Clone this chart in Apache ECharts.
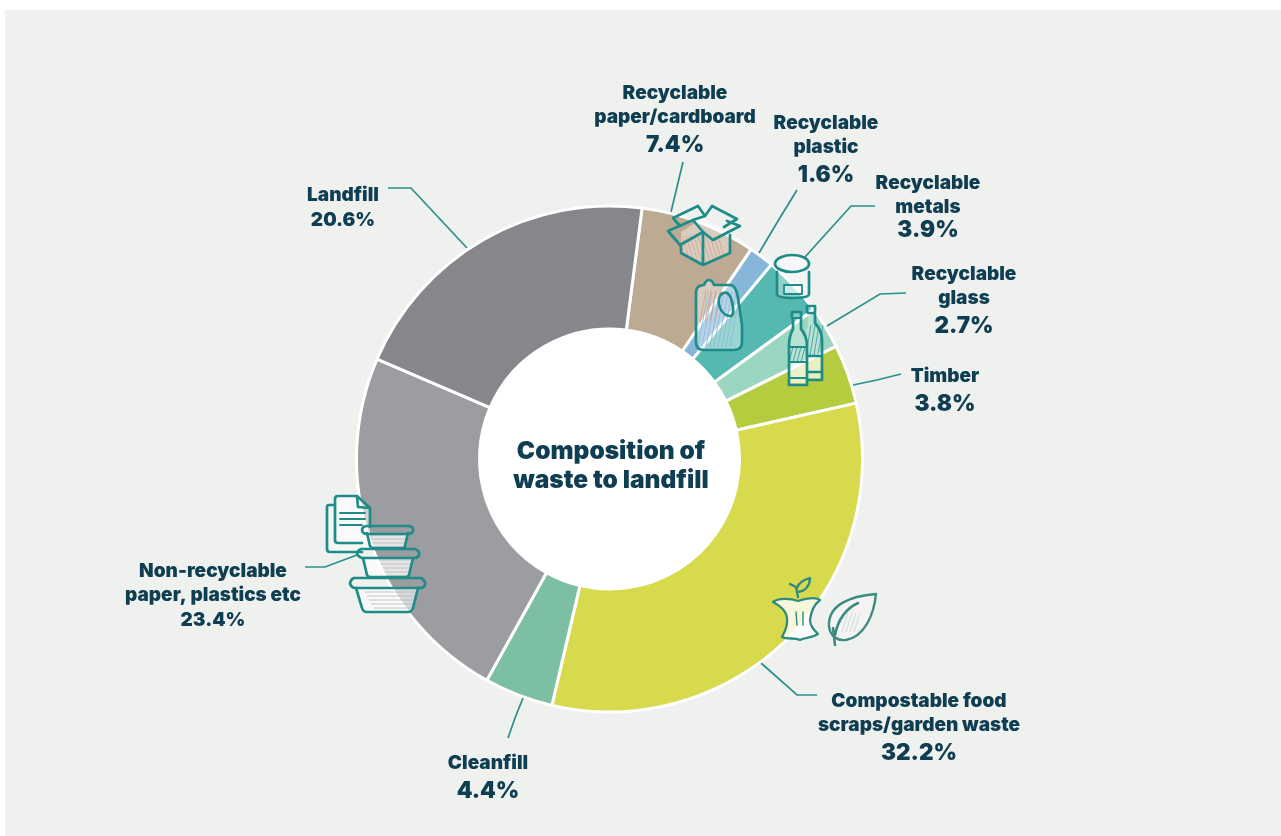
<!DOCTYPE html>
<html>
<head>
<meta charset="utf-8">
<style>
  html, body { margin: 0; padding: 0; background: #fff; }
  #chart { width: 1281px; height: 836px; }
</style>
<script src="https://cdn.jsdelivr.net/npm/echarts@6/dist/echarts.min.js"></script>
</head>
<body>
<div id="chart"></div>
<script>
// Waste streams, clockwise from the top of the ring
const categories = [
  'Recyclable\npaper/cardboard', 'Recyclable\nplastic', 'Recyclable\nmetals',
  'Recyclable\nglass', 'Timber', 'Compostable food\nscraps/garden waste',
  'Cleanfill', 'Non-recyclable\npaper, plastics etc', 'Landfill'
];
const shares = [7.4, 1.6, 3.9, 2.7, 3.8, 32.2, 4.4, 23.4, 20.6];
const sliceColors = ['#bcaa93', '#86b7d8', '#55b9b2', '#9ad6c0', '#b6cc3f', '#d8da4e', '#7dbfa3', '#9c9da0', '#86878a'];

// Label centres and leader routes, in page pixels
const labelCentres = [
  [675, 121.5], [826, 151], [928, 206], [964, 302], [945, 392],
  [919, 729], [488, 779], [213, 596], [343, 208]
];
const percentStyles = ['pct', 'pct', 'pctTight', 'pct', 'pct', 'pct', 'pct', 'pctSmall', 'pctSmall'];
const leaders = [
  [[683, 162], [677, 187], [671, 212]],
  [[797, 190], [778, 221], [759, 253]],
  [[875, 206], [851, 206], [805, 257]],
  [[906, 293], [880, 294], [827, 326]],
  [[901, 374], [877, 380], [853, 385]],
  [[817, 695], [797, 695], [761, 663]],
  [[508, 738], [515, 718], [523, 698]],
  [[305, 567], [325, 567], [357, 555]],
  [[388, 188], [411, 188], [467, 248]]
];

const ink = '#0f3d52';
const teal = '#1f8c88';
const fontFamily = 'Inter, "Open Sans", sans-serif';

// Evenly spaced slanted strokes used as shading inside the icons
function hatch(x0, x1, y0, y1, step, slant) {
  let d = '';
  for (let x = x0; x <= x1; x += step) {
    d += 'M' + x + ' ' + y1 + 'L' + (x + slant) + ' ' + y0;
  }
  return d;
}

function outline(pathData, width, color) {
  return {
    type: 'path',
    shape: { pathData },
    style: { fill: 'none', stroke: color || teal, lineWidth: width || 2.7, lineJoin: 'round', lineCap: 'round' }
  };
}
function filled(pathData, fill) {
  return { type: 'path', shape: { pathData }, style: { fill, stroke: 'none' } };
}
function shade(pathData, color, width) {
  return {
    type: 'path', shape: { pathData },
    style: { fill: 'none', stroke: color, lineWidth: width || 1, opacity: 0.85 }
  };
}

const applePath = 'M773 602C778 598 790 598 798 601C808 598 816 597 820 600C815 604 811 610 810 620C810 626 814 630 818 634C812 638 806 637 800 640C794 637 788 640 782 637C786 630 788 625 787 618C786 610 780 606 773 602Z';
const leafPath = 'M876 594C850 596 828 605 829 626C830 637 838 641 846 640C864 637 874 615 876 594Z';
const jugPath = 'M704 285Q706 280 709 280Q712 280 714 285L730 285Q736 285 738 298L742 325L742 342Q742 350 734 350L704 350Q696 350 696 342L696 293Q696 285 704 285Z';

const icons = [
  // Cardboard box
  filled('M681 232L681 253L703 265L730 253L730 232L703 218Z', 'rgba(255,255,255,0.4)'),
  shade(hatch(682, 728, 236, 262, 4, -8), '#d9a590'),
  outline('M681 244L681 253L703 265L730 253L730 235M703 232L703 265'),
  outline('M668 231L693 220L703 232L680 245Z'),
  outline('M703 232L713 240L740 226L727 221'),
  outline('M680 226L673 218L698 206L705 216L712 206L737 219L724 227M693 220L705 216'),

  // Plastic bottle
  filled(jugPath, 'rgba(255,255,255,0.4)'),
  shade(hatch(698, 730, 292, 347, 4, 10), '#8fb9d6'),
  shade(hatch(700, 716, 290, 322, 5, 6), '#d39f8a'),
  outline(jugPath),
  outline('M719 298Q722 291 727 293Q732 296 733 308Q734 316 730 316Q724 316 720 308Q718 303 719 298Z'),

  // Tin with lifted lid
  filled('M777 272L809 272L809 294Q809 298 793 298Q777 298 777 294Z', 'rgba(255,255,255,0.35)'),
  outline('M777 272L777 294Q777 298 793 298Q809 298 809 294L809 272'),
  filled('M775 264C775 258 785 255 792 255C800 255 809 258 809 264C809 269 800 272 792 272C785 272 775 269 775 264Z', 'rgba(255,255,255,0.45)'),
  outline('M775 264C775 258 785 255 792 255C800 255 809 258 809 264C809 269 800 272 792 272C785 272 775 269 775 264Z'),
  filled('M784 285L802 285L802 294L784 294Z', 'rgba(255,255,255,0.55)'),
  outline('M784 285L802 285L802 294L784 294Z', 1.8),

  // Pair of glass bottles
  filled('M807 310L807 306L815 306L815 323Q822 331 822 340L822 380L806 380L806 330Q808 327 808 323Z', 'rgba(255,255,255,0.3)'),
  shade(hatch(806, 820, 325, 355, 4, 5), '#3d9b97'),
  filled('M808 356L821 356L821 378L808 378Z', 'rgba(255,255,255,0.55)'),
  outline('M807 312L807 306L815 306L815 323Q822 331 822 340L822 380L806 380M808 313L815 313M807 356L822 356M807 372L822 372'),
  filled('M792 312L801 312L801 329Q807 336 807 346L807 385L789 385L789 346Q789 336 793 329Z', 'rgba(255,255,255,0.3)'),
  shade(hatch(789, 804, 347, 362, 4, 4), '#3d9b97'),
  filled('M790 362L806 362L806 383L790 383Z', 'rgba(255,255,255,0.6)'),
  outline('M792 318L792 312L801 312L801 329Q807 336 807 346L807 385L789 385L789 346Q789 336 793 329L793 318Z'),
  outline('M793 318L801 318M789 347L807 347M789 362L807 362M789 378L807 378', 2),

  // Stacked papers
  filled('M327 507L335 505L335 543L370 543L370 552L330 552Q327 552 327 549Z', 'rgba(255,255,255,0.35)'),
  outline('M335 505L329 505Q327 505 327 507L327 549Q327 552 330 552L362 552'),
  filled('M338 496L357 496L370 508L370 543L338 543Q335 543 335 540L335 499Q335 496 338 496Z', 'rgba(255,255,255,0.55)'),
  outline('M362 543L338 543Q335 543 335 540L335 499Q335 496 338 496L357 496L370 508L370 527M357 496L358 507L370 508'),
  outline('M340 513L365 513M340 519L365 519M340 525L362 525', 1.9),

  // Stacked food containers
  filled('M365 533L409 533L406 547L370 547Z', 'rgba(255,255,255,0.55)'),
  shade('M372 537L405 537M372 541L404 541M373 545L403 545', '#ffffff', 1.2),
  outline('M367 533L370 546Q371 548 374 548L402 548Q405 548 405 546L408 533'),
  outline('M366 526L409 526Q414 527 413 531Q412 534 408 534L366 534Q362 533 362 530Q362 527 366 526Z'),
  filled('M363 558L414 558L409 577L367 577Z', 'rgba(255,255,255,0.55)'),
  shade('M372 562L412 562M374 566L411 566M376 570L410 570M378 574L409 574', '#ffffff', 1.2),
  outline('M363 558L367 575Q368 577 371 577L405 577Q408 577 409 575L413 558'),
  outline('M361 549L415 549Q420 551 419 555Q418 558 414 558L362 558Q357 556 357 553Q358 550 361 549Z'),
  filled('M355 588L419 588L413 612L361 612Z', 'rgba(255,255,255,0.6)'),
  shade('M365 592L417 592M367 596L416 596M369 600L415 600M371 604L414 604M374 608L412 608', '#b9babc', 1.2),
  outline('M356 588L362 608Q363 612 367 612L408 612Q412 612 413 608L418 588'),
  outline('M354 578L421 578Q426 581 425 585Q424 588 420 588L354 588Q350 586 350 583Q351 579 354 578Z'),

  // Apple core
  filled(applePath, 'rgba(255,255,255,0.8)'),
  outline(applePath, 2.3, '#2f8a80'),
  outline('M798 597L796 587M796 587L790 584M797 588C799 582 804 580 810 578C810 585 806 591 798 592', 2.3, '#2f8a80'),
  outline('M796 612L797 625M803 612L803 625', 1.4, '#2f8a80'),

  // Leaf
  filled(leafPath, 'rgba(255,255,255,0.25)'),
  shade(hatch(842, 856, 613, 632, 4, 6), '#c9d6d2'),
  outline(leafPath, 2.4, '#3c8a80'),
  outline('M833 628L835 645M835 635C838 620 845 609 858 603', 2.6, '#3c8a80')
];

const pieData = categories.map(function (name, i) {
  return { name: name, value: shares[i], itemStyle: { color: sliceColors[i] } };
});

const chart = echarts.init(document.getElementById('chart'), null, { renderer: 'canvas' });
chart.setOption({
  animation: false,
  backgroundColor: '#ffffff',
  title: {
    text: 'Composition of\nwaste to landfill',
    left: 606, top: 432,
    textAlign: 'center',
    textStyle: { color: ink, fontFamily, fontWeight: 900, fontSize: 24.5, lineHeight: 29 }
  },
  graphic: {
    elements: [
      // Panel behind the chart and the white hole of the ring
      { type: 'rect', z: -10, silent: true, shape: { x: 5, y: 10, width: 1276, height: 826 }, style: { fill: '#eff1ef' } },
      { type: 'circle', z: -9, silent: true, shape: { cx: 609.5, cy: 459, r: 131 }, style: { fill: '#ffffff' } }
    ]
  },
  series: [{
    type: 'pie',
    center: [609.5, 459],
    radius: [130, 253],
    startAngle: 82.6,
    clockwise: true,
    silent: true,
    avoidLabelOverlap: false,
    itemStyle: { borderColor: '#ffffff', borderWidth: 3 },
    data: pieData,
    label: {
      show: true,
      position: 'outside',
      color: ink,
      formatter: function (p) {
        const lines = p.name.split('\n').map(function (l) { return '{name|' + l + '}'; });
        lines.push('{' + percentStyles[p.dataIndex] + '|' + p.value.toFixed(1) + '%}');
        return lines.join('\n');
      },
      rich: {
        name: { color: ink, fontFamily, fontWeight: 900, fontSize: 19, lineHeight: 24, align: 'center' },
        pct: { color: ink, fontFamily, fontWeight: 900, fontSize: 22.5, lineHeight: 32, align: 'center' },
        pctTight: { color: ink, fontFamily, fontWeight: 900, fontSize: 22.5, lineHeight: 21, align: 'center' },
        pctSmall: { color: ink, fontFamily, fontWeight: 900, fontSize: 19, lineHeight: 25, align: 'center' }
      }
    },
    labelLine: {
      show: true,
      lineStyle: { color: '#2a8f8c', width: 1.7 }
    },
    labelLayout: function (p) {
      const c = labelCentres[p.dataIndex];
      return {
        x: c[0], y: c[1], align: 'center', verticalAlign: 'middle',
        labelLinePoints: leaders[p.dataIndex]
      };
    }
  }, {
    // Line-art pictograms laid over the ring
    type: 'custom',
    coordinateSystem: 'none',
    silent: true,
    z: 20,
    data: [0],
    renderItem: function () {
      return { type: 'group', children: icons };
    }
  }]
});
</script>
</body>
</html>
